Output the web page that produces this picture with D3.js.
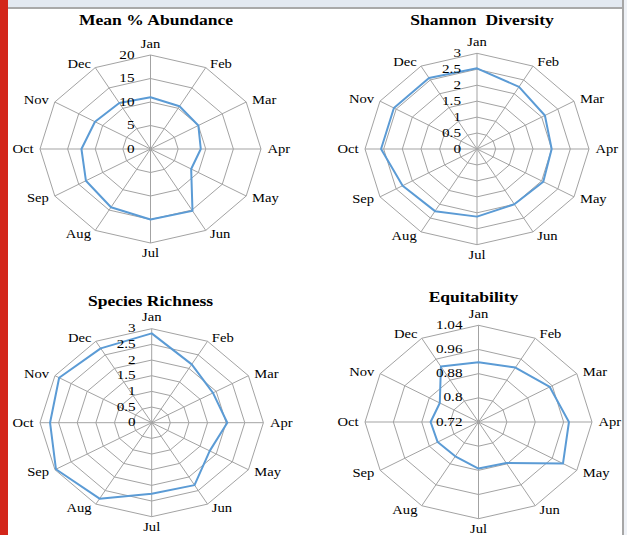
<!DOCTYPE html>
<html>
<head>
<meta charset="utf-8">
<script src="https://cdn.jsdelivr.net/npm/d3@7/dist/d3.min.js"></script>
<style>
  body { margin: 0; background: #fff; }
  svg { display: block; }
  text { font-family: "Liberation Serif", "Times New Roman", serif; fill: #000; }
</style>
</head>
<body>
<div id="chart"></div>
<script>
// data
const months = ["Jan", "Feb", "Mar", "Apr", "May", "Jun", "Jul", "Aug", "Sep", "Oct", "Nov", "Dec"];
const abundance = [11.0, 10.5, 10.0, 9.1, 8.5, 15.2, 15.0, 14.3, 13.5, 12.5, 11.6, 11.3];
const shannon = [2.53, 2.25, 2.1, 2.0, 2.05, 2.0, 2.12, 2.25, 2.3, 2.57, 2.57, 2.57];
const richness = [2.85, 2.15, 1.9, 2.03, 1.8, 2.3, 2.27, 2.8, 2.97, 2.73, 2.87, 2.74];
const equitability = [0.918, 0.928, 0.952, 0.975, 0.995, 0.877, 0.874, 0.851, 0.853, 0.855, 0.846, 0.932];

const abundanceTicks = [0, 5, 10, 15, 20];
const diversityTicks = [0, 0.5, 1, 1.5, 2, 2.5, 3];
const equitTicks = [0.72, 0.8, 0.88, 0.96, 1.04];

// set svg parameters
const width = 627,
      height = 535;
const svg = d3.select("#chart")
  .append("svg")
    .attr("width", width)
    .attr("height", height);

// page decoration (window chrome of the source screenshot)
svg.append("rect").attr("x", 0).attr("y", 0).attr("width", width).attr("height", 7).attr("fill", "#e3e9f1");
svg.append("rect").attr("x", 8).attr("y", 7).attr("width", 616).attr("height", 2).attr("fill", "#a9a9a9");
svg.append("rect").attr("x", 622).attr("y", 0).attr("width", 2).attr("height", height).attr("fill", "#a6a6a6");
svg.append("rect").attr("x", 624).attr("y", 0).attr("width", 3).attr("height", height).attr("fill", "#eef1f6");
svg.append("rect").attr("x", 0).attr("y", 0).attr("width", 8).attr("height", height).attr("fill", "#d3261a");

const stretch = 1.17;   // the source image is widened horizontally

const panels = [
  { title: "Mean % Abundance", values: abundance, ticks: abundanceTicks,
    cx: 150.5, cy: 149, rx: 110.5, ry: 94, tx: 156, ty: 25 },
  { title: "Shannon Diversity", values: shannon, ticks: diversityTicks,
    cx: 477, cy: 149, rx: 112, ry: 95.7, tx: 482, ty: 25, wordSpacing: 4 },
  { title: "Species Richness", values: richness, ticks: diversityTicks,
    cx: 151.7, cy: 422.7, rx: 111.7, ry: 94, tx: 150.5, ty: 306 },
  { title: "Equitability", values: equitability, ticks: equitTicks,
    cx: 478.5, cy: 422, rx: 113.5, ry: 96.7, tx: 473.5, ty: 302 }
];

// angle per month
const angle = d3.scaleBand()
  .domain(months)
  .range([0, 2 * Math.PI]);

panels.forEach(function(p) {
  const g = svg.append("g");

  const r = d3.scaleLinear()
    .domain(d3.extent(p.ticks))
    .range([0, 1]);

  const px = (m, v) => p.cx + Math.sin(angle(m)) * r(v) * p.rx;
  const py = (m, v) => p.cy - Math.cos(angle(m)) * r(v) * p.ry;

  const ring = d3.line()
    .x(m => px(m[0], m[1]))
    .y(m => py(m[0], m[1]))
    .curve(d3.curveLinearClosed);

  // rings
  g.selectAll(".ring")
    .data(p.ticks.slice(1))
    .join("path")
      .attr("class", "ring")
      .attr("d", t => ring(months.map(m => [m, t])))
      .attr("fill", "none")
      .attr("stroke", "#a3a3a3")
      .attr("stroke-width", 1);

  // spokes
  const top = p.ticks[p.ticks.length - 1];
  g.selectAll(".spoke")
    .data(months)
    .join("line")
      .attr("class", "spoke")
      .attr("x1", p.cx)
      .attr("y1", p.cy)
      .attr("x2", m => px(m, top))
      .attr("y2", m => py(m, top))
      .attr("stroke", "#a3a3a3")
      .attr("stroke-width", 1);

  // data series
  g.append("path")
    .attr("d", ring(months.map((m, i) => [m, p.values[i]])))
    .attr("fill", "none")
    .attr("stroke", "#5b9bd5")
    .attr("stroke-width", 2)
    .attr("stroke-linejoin", "round");

  // tick labels left of the Jan spoke
  g.selectAll(".tick")
    .data(p.ticks)
    .join("text")
      .attr("class", "tick")
      .attr("transform", t => `translate(${p.cx - 16},${py("Jan", t) - 1}) scale(${stretch},1)`)
      .attr("text-anchor", "end")
      .attr("dominant-baseline", "central")
      .style("font-size", "13px")
      .text(t => String(t));

  // month labels
  g.selectAll(".month")
    .data(months)
    .join("text")
      .attr("class", "month")
      .attr("transform", function(m) {
        const s = Math.sin(angle(m)), c = Math.cos(angle(m));
        let x = px(m, top), y = py(m, top);
        if (Math.abs(s) < 0.1) {
          y -= c > 0 ? 11.5 : -10;
        } else {
          x += Math.sign(s) * (2 + 4.5 * Math.abs(s));
          y -= c * 4.5;
        }
        return `translate(${x},${y}) scale(${stretch},1)`;
      })
      .attr("text-anchor", m => {
        const s = Math.sin(angle(m));
        return Math.abs(s) < 0.1 ? "middle" : (s > 0 ? "start" : "end");
      })
      .attr("dominant-baseline", "central")
      .style("font-size", "12.5px")
      .text(m => m);

  // title
  g.append("text")
    .attr("transform", `translate(${p.tx},${p.ty}) scale(${stretch},1)`)
    .attr("text-anchor", "middle")
    .style("font-size", "15px")
    .style("font-weight", "bold")
    .style("word-spacing", (p.wordSpacing || 0) + "px")
    .text(p.title);
});
</script>
</body>
</html>
